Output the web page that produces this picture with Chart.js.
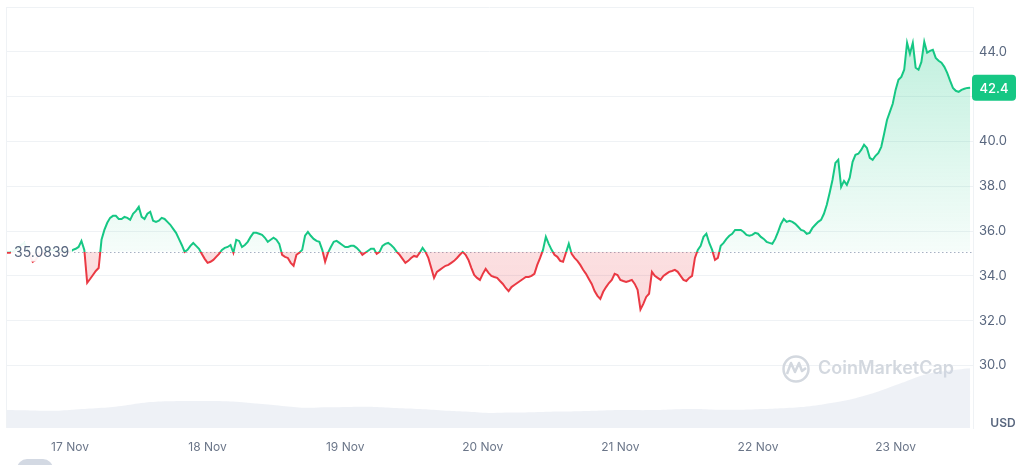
<!DOCTYPE html>
<html>
<head>
<meta charset="utf-8">
<script src="https://cdn.jsdelivr.net/npm/chart.js@4.4.1/dist/chart.umd.min.js"></script>
<style>
  html, body { margin: 0; padding: 0; background: #fff; }
  #wrap { width: 1024px; height: 465px; position: relative; }
</style>
</head>
<body>
<div id="wrap"><canvas id="priceChart"></canvas></div>
<script>
// half-hourly prices, hour 0 = 17 Nov 00:00, first point at hour -11
const START_HOUR = -11;
const STEP_HOURS = 0.5;
const prices = [
  35.03, 35.03, 35.07, 35.16, 35.25, 35.38, 35.47, 35.21, 34.89, 34.63, 34.71, 34.89,
  34.94, 35.03, 35.12, 35.16, 35.16, 35.12, 35.07, 35.07, 35.12, 35.07,
  35.07, 35.16, 35.21, 35.29, 35.56, 35.16, 33.69, 33.86, 34.04, 34.22, 34.35, 35.61,
  36.05, 36.37, 36.59, 36.68, 36.68, 36.54, 36.54, 36.63, 36.59, 36.50, 36.77, 36.90,
  37.08, 36.63, 36.54, 36.77, 36.86, 36.46, 36.41, 36.46, 36.59, 36.54, 36.41, 36.28,
  36.10, 35.92, 35.65, 35.38, 35.07, 35.16, 35.34, 35.47, 35.34, 35.21, 34.98, 34.76,
  34.58, 34.63, 34.71, 34.85, 34.98, 35.16, 35.25, 35.29, 35.38, 35.03, 35.61, 35.56,
  35.29, 35.38, 35.52, 35.74, 35.92, 35.92, 35.88, 35.83, 35.70, 35.52, 35.61, 35.70,
  35.61, 35.43, 34.94, 34.85, 34.80, 34.58, 34.45, 34.94, 35.03, 35.16, 35.79, 35.96,
  35.79, 35.65, 35.56, 35.52, 35.16, 34.63, 35.03, 35.29, 35.52, 35.56, 35.47, 35.38,
  35.29, 35.29, 35.34, 35.34, 35.25, 35.12, 34.94, 35.03, 35.12, 35.21, 35.21, 34.98,
  35.07, 35.34, 35.43, 35.47, 35.38, 35.25, 35.07, 34.94, 34.76, 34.58, 34.67, 34.80,
  34.89, 34.85, 35.03, 35.25, 35.07, 34.80, 34.36, 33.91, 34.18, 34.27, 34.36, 34.45,
  34.49, 34.58, 34.67, 34.80, 34.94, 35.07, 34.94, 34.71, 34.36, 34.04, 33.91, 33.82,
  34.09, 34.31, 34.13, 34.00, 33.95, 33.91, 33.77, 33.64, 33.46, 33.32, 33.50, 33.59,
  33.68, 33.77, 33.86, 33.95, 33.95, 34.00, 34.09, 34.49, 34.80, 35.16, 35.74, 35.43,
  35.16, 34.94, 34.85, 34.67, 34.63, 35.03, 35.43, 34.98, 34.80, 34.67, 34.49, 34.27,
  34.09, 33.86, 33.64, 33.32, 33.11, 32.97, 33.29, 33.50, 33.68, 33.82, 34.09, 34.04,
  33.82, 33.77, 33.73, 33.77, 33.82, 33.64, 33.38, 32.50, 32.75, 33.06, 33.20, 34.18,
  34.00, 33.91, 33.82, 34.00, 34.09, 34.18, 34.22, 34.27, 34.18, 34.00, 33.82, 33.77,
  33.91, 34.00, 34.80, 35.16, 35.34, 35.74, 35.88, 35.47, 35.16, 34.71, 34.80, 35.34,
  35.47, 35.65, 35.79, 35.88, 36.05, 36.05, 36.05, 35.96, 35.83, 35.79, 35.83, 35.92,
  35.88, 35.74, 35.65, 35.52, 35.47, 35.43, 35.65, 35.96, 36.32, 36.54, 36.41, 36.46,
  36.41, 36.32, 36.19, 36.05, 36.01, 35.88, 35.92, 36.14, 36.28, 36.41, 36.50, 36.77,
  37.17, 37.71, 38.29, 39.04, 39.18, 37.97, 38.24, 38.06, 38.38, 39.09, 39.40, 39.45,
  39.62, 39.85, 39.71, 39.27, 39.18, 39.36, 39.49, 39.76, 40.34, 40.96, 41.32, 41.68,
  42.30, 42.75, 42.88, 43.20, 44.40, 43.91, 44.40, 43.29, 43.20, 43.55, 44.45, 43.96,
  44.04, 44.09, 43.73, 43.60, 43.51, 43.33, 43.06, 42.71, 42.39, 42.26, 42.21, 42.30,
  42.35, 42.39, 42.40
];
const openPrice = 35.0839;
const lastPrice = 42.4;

// volume (M USD), every 4 hours
const volumeHours = [-11, -7, -3, 1, 5, 9, 13, 17, 21, 25, 29, 33, 37, 41, 45, 49, 53, 57, 61, 65, 69, 73,
  77, 81, 85, 89, 93, 97, 101, 105, 109, 113, 117, 121, 125, 129, 133, 137, 141, 145, 149, 153, 157];
const volumes = [51, 50, 49, 53, 57, 63, 72, 76, 77, 77, 75, 69, 63, 58, 59, 60, 60, 57, 54, 50, 47, 43,
  44, 45, 47, 48, 50, 51, 51, 53, 54, 52, 52, 54, 57, 62, 72, 85, 104, 128, 152, 163, 170];

const dayTicks = [0, 24, 48, 72, 96, 120, 144];
const dayLabels = ['17 Nov', '18 Nov', '19 Nov', '20 Nov', '21 Nov', '22 Nov', '23 Nov'];
const priceTicks = [28, 30, 32, 34, 36, 38, 40, 42, 44, 46];
const hiddenPriceLabels = [28, 42, 46];

const GREEN = '#16c784';
const RED = '#ea3943';

const pricePoints = prices.map((v, i) => ({ x: START_HOUR + i * STEP_HOURS, y: v }));
const volumePoints = volumeHours.map((h, i) => ({ x: h, y: volumes[i] }));

function baseFrac(chart) {
    const { top, bottom } = chart.chartArea;
    const b = chart.scales.y.getPixelForValue(openPrice);
    return Math.min(1, Math.max(0, (b - top) / (bottom - top)));
}

function lineGradient(context) {
    const chart = context.chart;
    if (!chart.chartArea) return GREEN;
    const { top, bottom } = chart.chartArea;
    const f = baseFrac(chart);
    const g = chart.ctx.createLinearGradient(0, top, 0, bottom);
    g.addColorStop(0, GREEN);
    g.addColorStop(f, GREEN);
    g.addColorStop(f, RED);
    g.addColorStop(1, RED);
    return g;
}

function fillGradient(context) {
    const chart = context.chart;
    if (!chart.chartArea) return 'rgba(22,199,132,0.15)';
    const { top, bottom } = chart.chartArea;
    const f = baseFrac(chart);
    const g = chart.ctx.createLinearGradient(0, top, 0, bottom);
    g.addColorStop(0, 'rgba(22,199,132,0.30)');
    g.addColorStop(f, 'rgba(22,199,132,0.04)');
    g.addColorStop(f, 'rgba(234,57,67,0.16)');
    g.addColorStop(1, 'rgba(234,57,67,0.24)');
    return g;
}

const overlays = {
    id: 'overlays',
    beforeDatasetsDraw(chart) {
        const { ctx, chartArea } = chart;
        // watermark
        ctx.save();
        ctx.strokeStyle = '#d3d8df';
        ctx.lineWidth = 2.5;
        ctx.beginPath();
        ctx.arc(796, 369, 12.5, 0, Math.PI * 2);
        ctx.stroke();
        ctx.beginPath();
        ctx.lineJoin = 'round';
        ctx.moveTo(787, 374);
        ctx.lineTo(791, 363);
        ctx.lineTo(795, 372);
        ctx.lineTo(799, 363);
        ctx.lineTo(802, 371);
        ctx.lineTo(806, 368);
        ctx.stroke();
        ctx.fillStyle = '#d3d8df';
        ctx.font = '600 18px Inter';
        ctx.textBaseline = 'middle';
        ctx.fillText('CoinMarketCap', 818, 369);
        ctx.restore();

        // dotted open-price line
        const y = Math.round(chart.scales.y.getPixelForValue(openPrice)) + 0.5;
        ctx.save();
        ctx.strokeStyle = '#a6b0c3';
        ctx.lineWidth = 1;
        ctx.setLineDash([1.5, 2.5]);
        ctx.beginPath();
        ctx.moveTo(chartArea.left, y);
        ctx.lineTo(chartArea.right, y);
        ctx.stroke();
        ctx.restore();
    },
    afterDatasetsDraw(chart) {
        const { ctx } = chart;
        const y = chart.scales.y.getPixelForValue(openPrice);
        ctx.save();
        ctx.fillStyle = 'rgba(255,255,255,0.92)';
        ctx.fillRect(11, y - 10, 61, 20);
        ctx.fillStyle = '#58667e';
        ctx.font = '14px Inter';
        ctx.textBaseline = 'middle';
        ctx.fillText(openPrice.toFixed(4), 14, y + 1);
        ctx.restore();
    },
    afterDraw(chart) {
        const { ctx, chartArea } = chart;
        ctx.save();
        // left frame line
        ctx.strokeStyle = '#eff2f5';
        ctx.lineWidth = 1;
        ctx.beginPath();
        ctx.moveTo(chartArea.left + 0.5, chartArea.top);
        ctx.lineTo(chartArea.left + 0.5, chartArea.bottom);
        ctx.stroke();

        // last price badge
        const py = chart.scales.y.getPixelForValue(lastPrice);
        ctx.fillStyle = GREEN;
        ctx.beginPath();
        ctx.roundRect(972, py - 13, 44, 26, 4);
        ctx.fill();
        ctx.fillStyle = '#fff';
        ctx.font = '500 13px Inter';
        ctx.textAlign = 'center';
        ctx.textBaseline = 'middle';
        ctx.fillText(lastPrice.toFixed(1), 994, py + 1);

        // currency
        ctx.fillStyle = '#58667e';
        ctx.font = '600 12px Inter';
        ctx.fillText('USD', 1003, 423);

        // cropped toggle at the bottom
        ctx.fillStyle = '#d3d9e3';
        ctx.beginPath();
        ctx.roundRect(17, 459, 36, 20, 10);
        ctx.fill();
        ctx.restore();
    }
};

new Chart(document.getElementById('priceChart'), {
    type: 'line',
    data: {
        datasets: [
            {
                label: 'Price',
                data: pricePoints,
                yAxisID: 'y',
                borderColor: lineGradient,
                backgroundColor: fillGradient,
                fill: { value: openPrice },
                borderWidth: 2,
                pointRadius: 0,
                tension: 0,
                order: 0
            },
            {
                label: 'Volume',
                data: volumePoints,
                yAxisID: 'yv',
                borderWidth: 0,
                borderColor: 'rgba(0,0,0,0)',
                backgroundColor: 'rgba(207,214,228,0.35)',
                fill: 'origin',
                pointRadius: 0,
                tension: 0.4,
                order: 1
            }
        ]
    },
    options: {
        responsive: true,
        maintainAspectRatio: false,
        animation: false,
        layout: { padding: { left: 6, top: 7, right: 0, bottom: 0 } },
        plugins: { legend: { display: false }, tooltip: { enabled: false } },
        scales: {
            x: {
                type: 'linear',
                min: -11.16,
                max: 157.5,
                afterBuildTicks: (s) => { s.ticks = dayTicks.map(v => ({ value: v })); },
                afterFit: (s) => { s.height = 37; },
                ticks: {
                    autoSkip: false,
                    maxRotation: 0,
                    padding: 12,
                    color: '#6b7689',
                    font: { family: 'Inter', size: 12 },
                    callback: (v) => dayLabels[dayTicks.indexOf(v)] || ''
                },
                grid: { display: false, drawTicks: false },
                border: { display: false }
            },
            y: {
                position: 'right',
                min: 27.21,
                max: 46,
                afterBuildTicks: (s) => { s.ticks = priceTicks.map(v => ({ value: v })); },
                afterFit: (s) => { s.width = 51; s.paddingTop = 0; s.paddingBottom = 0; },
                ticks: {
                    padding: 6,
                    color: '#58667e',
                    font: { family: 'Inter', size: 13 },
                    callback: (v) => hiddenPriceLabels.includes(v) ? '' : v.toFixed(1)
                },
                grid: {
                    drawTicks: false,
                    color: (c) => (c.tick && c.tick.value === 28) ? 'rgba(0,0,0,0)' : '#eff2f5'
                },
                border: { display: true, color: '#eff2f5' }
            },
            yv: {
                display: false,
                min: 0,
                max: 1200
            }
        }
    },
    plugins: [overlays]
});
</script>
</body>
</html>
